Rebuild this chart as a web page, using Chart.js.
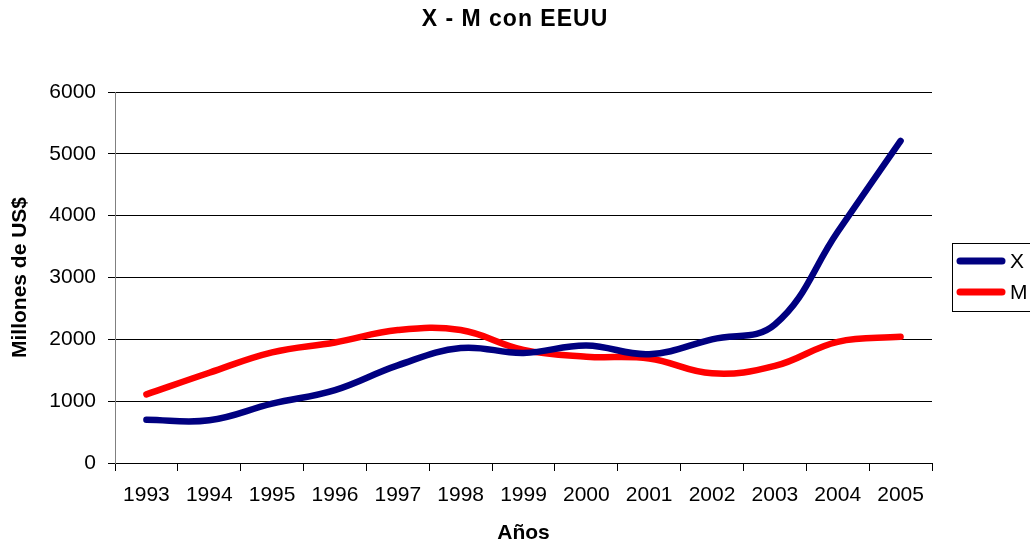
<!DOCTYPE html>
<html>
<head>
<meta charset="utf-8">
<script src="https://cdn.jsdelivr.net/npm/chart.js@4/dist/chart.umd.min.js"></script>
<style>
  html, body { margin: 0; padding: 0; background: #fff; }
  #wrap { width: 1030px; height: 546px; }
</style>
</head>
<body>
<div id="wrap"><canvas id="chart" width="1030" height="546"></canvas></div>
<script>
const years = ['1993', '1994', '1995', '1996', '1997', '1998', '1999', '2000', '2001', '2002', '2003', '2004', '2005'];
const exportsX = [700, 690, 960, 1180, 1580, 1860, 1780, 1900, 1760, 2000, 2240, 3740, 5210];
const importsM = [1110, 1460, 1790, 1950, 2150, 2150, 1830, 1720, 1690, 1450, 1570, 1960, 2040];
const yTicks = [0, 1000, 2000, 3000, 4000, 5000, 6000];
const chartTitle = 'X - M con EEUU';

const FONT = "'Liberation Sans', Arial, sans-serif";

// titulo centrado en toda la pagina
const pageTitle = {
    id: 'pageTitle',
    afterDraw(chart) {
        const ctx = chart.ctx;
        ctx.save();
        ctx.font = 'bold 23px ' + FONT;
        ctx.letterSpacing = '1px';
        ctx.fillStyle = '#000';
        ctx.textAlign = 'center';
        ctx.textBaseline = 'alphabetic';
        ctx.fillText(chartTitle, chart.width / 2, 26);
        ctx.restore();
    }
};

// leyenda con marco, como en la hoja de calculo
const boxLegend = {
    id: 'boxLegend',
    afterDraw(chart) {
        const ctx = chart.ctx;
        const area = chart.chartArea;
        const x0 = area.right + 20;
        const y0 = 243;
        ctx.save();
        ctx.strokeStyle = '#000';
        ctx.lineWidth = 1;
        ctx.strokeRect(x0 + 0.5, y0 + 0.5, 120, 68);
        chart.data.datasets.forEach((ds, i) => {
            const cy = y0 + 18 + i * 31;
            ctx.strokeStyle = ds.borderColor;
            ctx.lineWidth = 7;
            ctx.lineCap = 'round';
            ctx.beginPath();
            ctx.moveTo(x0 + 8, cy);
            ctx.lineTo(x0 + 50, cy);
            ctx.stroke();
            ctx.fillStyle = '#000';
            ctx.font = '21px ' + FONT;
            ctx.textBaseline = 'middle';
            ctx.fillText(ds.label, x0 + 58, cy + 1);
        });
        ctx.restore();
    }
};

new Chart(document.getElementById('chart').getContext('2d'), {
    type: 'line',
    data: {
        labels: years,
        datasets: [
            {
                label: 'X',
                data: exportsX,
                borderColor: '#000080',
                borderWidth: 6.5,
                borderCapStyle: 'round',
                pointRadius: 0,
                tension: 0.4,
                fill: false,
            },
            {
                label: 'M',
                data: importsM,
                borderColor: '#ff0000',
                borderWidth: 6.5,
                borderCapStyle: 'round',
                pointRadius: 0,
                tension: 0.4,
                fill: false,
            },
        ],
    },
    options: {
        responsive: false,
        animation: false,
        layout: { padding: { left: 0, right: 98, top: 92, bottom: 0 } },
        scales: {
            x: {
                offset: true,
                grid: {
                    offset: true,
                    drawOnChartArea: false,
                    tickLength: 8,
                    tickColor: '#000',
                },
                border: { color: '#000', width: 1 },
                ticks: {
                    color: '#000',
                    padding: 12,
                    maxRotation: 0,
                    font: { family: FONT, size: 21 },
                },
                title: {
                    display: true,
                    text: 'Años',
                    color: '#000',
                    padding: { top: 0, bottom: 0 },
                    font: { family: FONT, size: 21, weight: 'bold' },
                },
                afterFit(scale) { scale.height = 83; },
            },
            y: {
                min: 0,
                max: 6000,
                afterBuildTicks(scale) { scale.ticks = yTicks.map(v => ({ value: v })); },
                grid: {
                    color: '#000',
                    tickColor: '#000',
                    tickLength: 7,
                },
                border: { color: '#808080', width: 1 },
                ticks: {
                    color: '#000',
                    padding: 12,
                    font: { family: FONT, size: 21 },
                    callback: (v) => String(v),
                },
                title: {
                    display: true,
                    text: 'Millones de US$',
                    color: '#000',
                    padding: { top: 8, bottom: 0 },
                    font: { family: FONT, size: 21, weight: 'bold' },
                },
                afterFit(scale) { scale.width = 115; },
            },
        },
        plugins: {
            legend: { display: false },
            tooltip: { enabled: false },
            title: { display: false },
        },
    },
    plugins: [pageTitle, boxLegend],
});
</script>
</body>
</html>
